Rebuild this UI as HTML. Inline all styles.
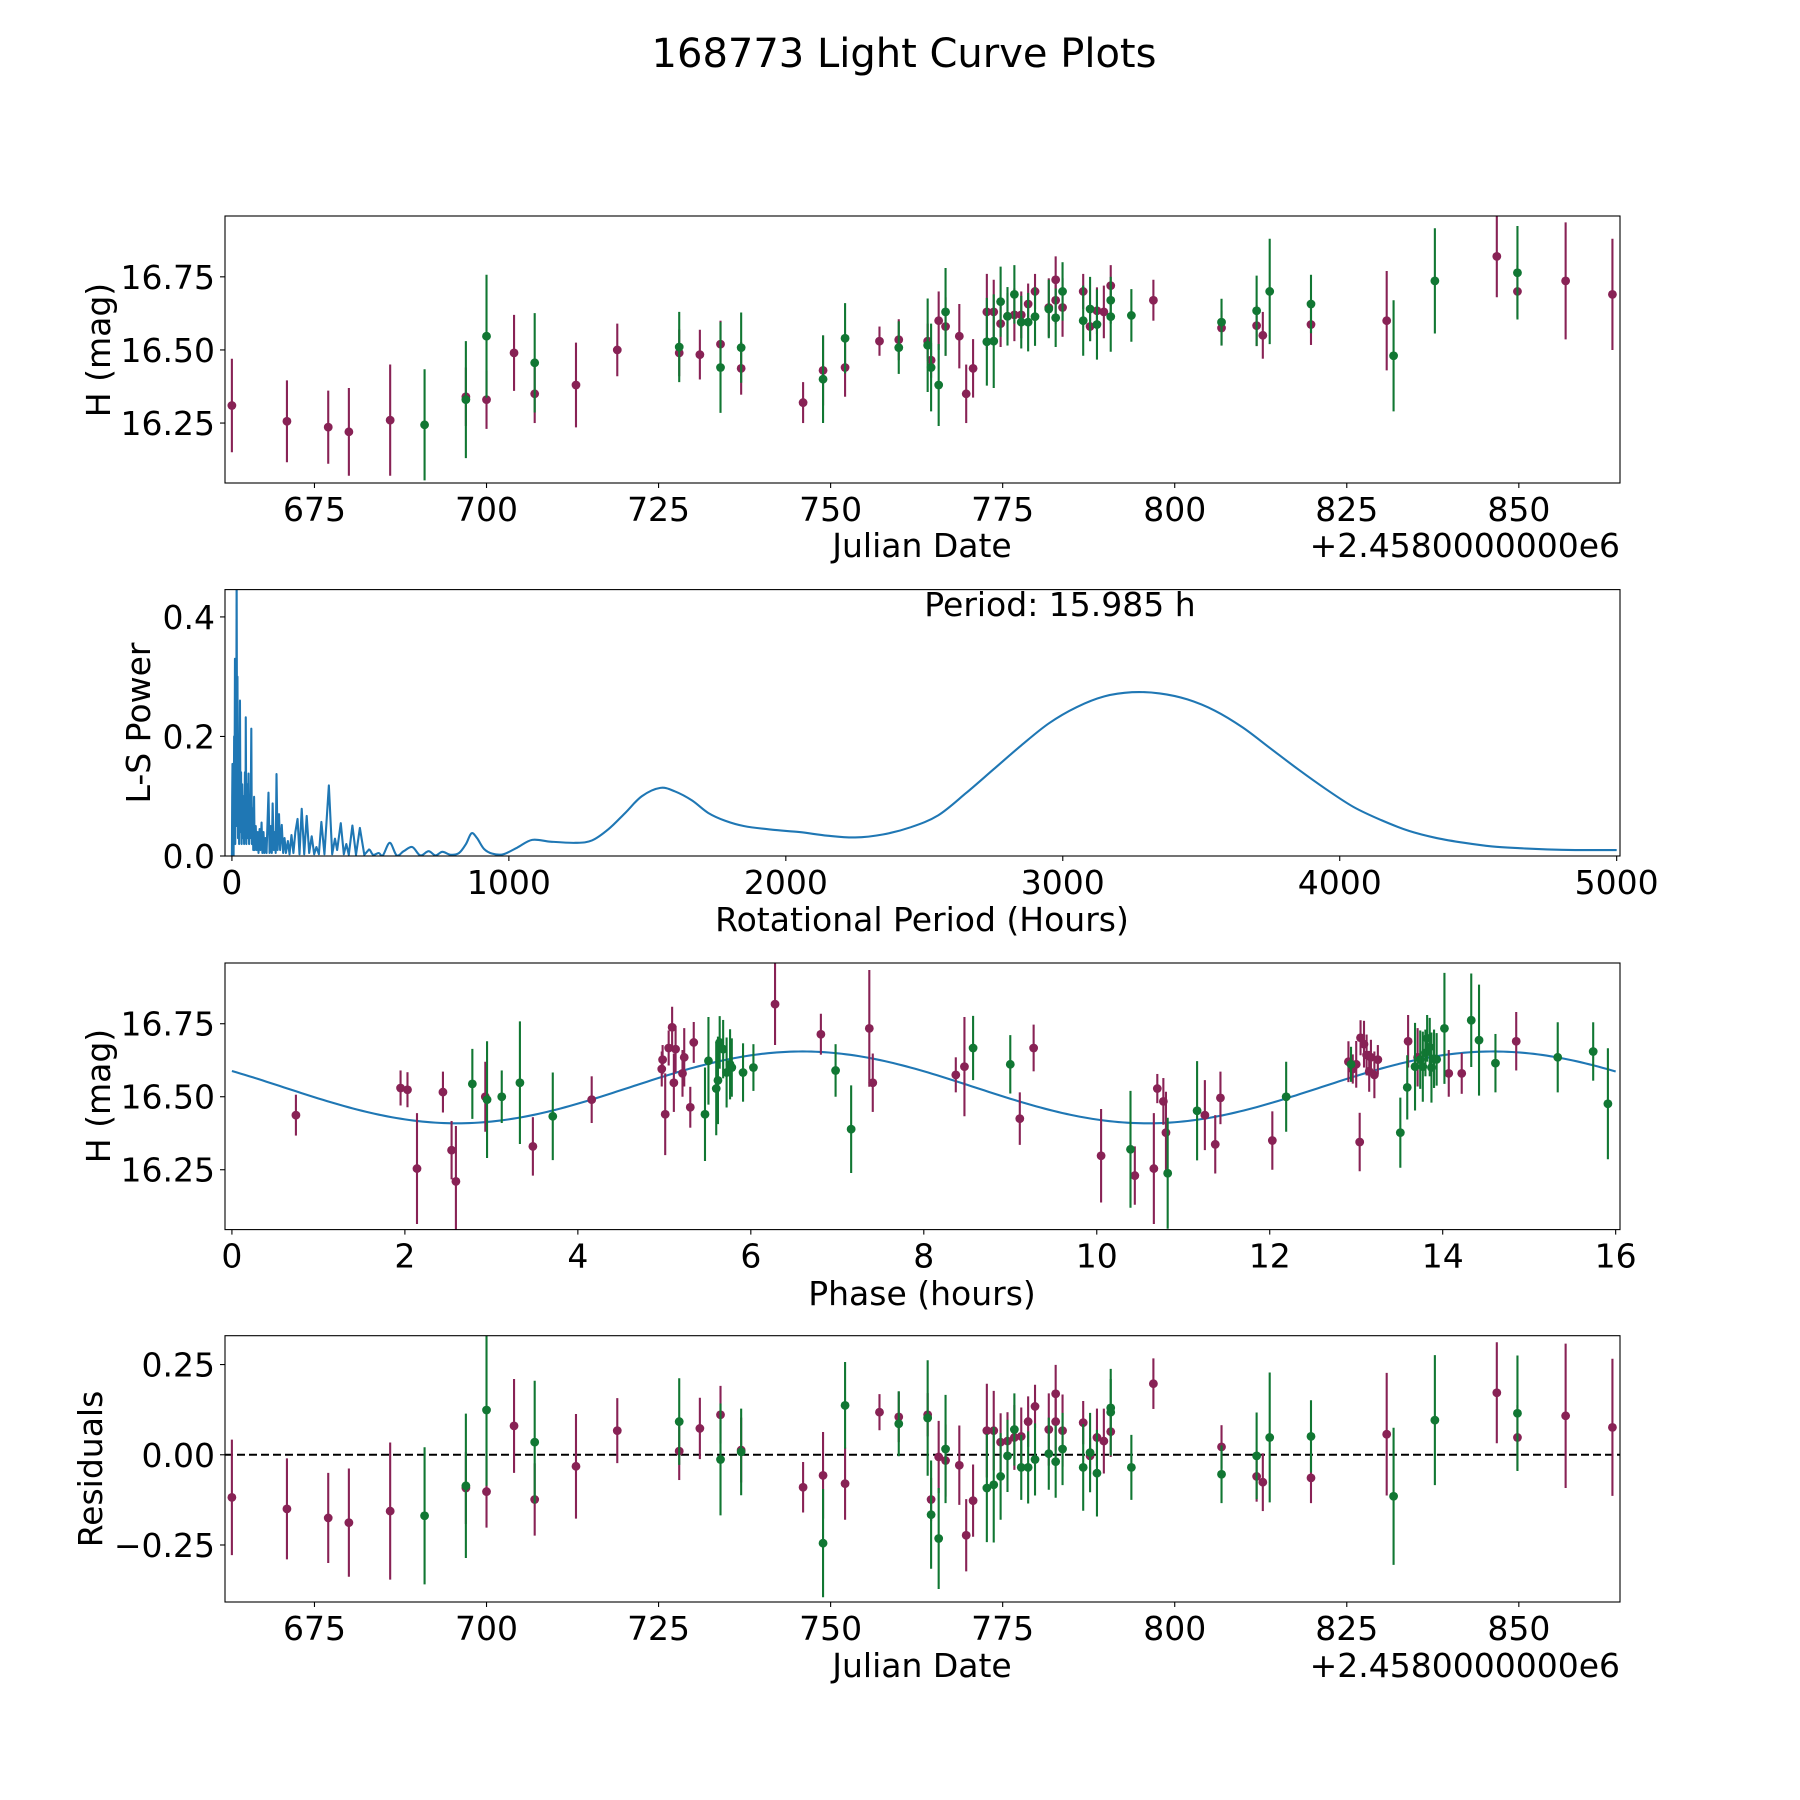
<!DOCTYPE html>
<html><head><meta charset="utf-8"><title>168773 Light Curve Plots</title>
<style>
html,body{margin:0;padding:0;background:#fff;}
svg{display:block;font-family:"DejaVu Sans","Liberation Sans",sans-serif;}
</style></head>
<body>
<svg id="fig" width="1800" height="1800" viewBox="0 0 1800 1800" xmlns="http://www.w3.org/2000/svg">
<rect x="0" y="0" width="1800" height="1800" fill="#fff"/>
<text x="904" y="67" font-size="40" text-anchor="middle">168773 Light Curve Plots</text>
</svg>
<script>
// ---- Light curve / residual data ----
const dates = [663.0,671.0,677.0,680.0,686.0,691.0,697.0,697.0,700.0,700.0,704.0,707.0,707.0,713.0,719.0,728.0,728.0,731.0,734.0,734.0,737.0,737.0,746.0,748.9,748.9,752.1,752.1,757.1,759.9,759.9,764.1,764.1,764.6,764.6,765.7,765.7,766.7,766.7,768.7,769.7,770.7,772.7,772.7,773.7,773.7,774.7,774.7,775.7,775.7,776.7,776.7,777.7,777.7,778.7,778.7,779.7,779.7,781.7,781.7,782.7,782.7,782.7,783.7,783.7,786.7,786.7,787.7,787.7,788.7,788.7,789.7,790.7,790.7,790.7,793.7,796.9,806.8,806.8,811.9,811.9,812.8,813.8,819.8,819.8,830.8,831.8,837.8,846.8,849.8,849.8,856.8,863.6];
const mags = [16.31,16.256,16.236,16.22,16.26,16.244,16.34,16.33,16.33,16.547,16.49,16.35,16.456,16.38,16.50,16.51,16.49,16.484,16.52,16.44,16.508,16.437,16.32,16.43,16.40,16.54,16.44,16.53,16.535,16.508,16.53,16.516,16.465,16.44,16.6,16.38,16.58,16.63,16.547,16.35,16.437,16.63,16.528,16.63,16.53,16.59,16.665,16.615,16.615,16.62,16.69,16.62,16.595,16.657,16.595,16.7,16.614,16.645,16.64,16.74,16.67,16.61,16.645,16.70,16.7,16.6,16.58,16.64,16.634,16.587,16.63,16.72,16.67,16.614,16.618,16.67,16.595,16.575,16.634,16.583,16.55,16.7,16.657,16.587,16.6,16.48,16.736,16.82,16.764,16.7,16.736,16.69];
const errs = [0.16,0.14,0.125,0.15,0.19,0.19,0.10,0.2,0.1,0.21,0.13,0.1,0.17,0.145,0.09,0.12,0.08,0.085,0.08,0.155,0.12,0.09,0.07,0.12,0.15,0.12,0.1,0.05,0.07,0.09,0.06,0.16,0.06,0.15,0.1,0.14,0.1,0.15,0.11,0.1,0.1,0.13,0.15,0.11,0.16,0.08,0.12,0.08,0.1,0.09,0.1,0.08,0.09,0.07,0.1,0.06,0.1,0.1,0.1,0.08,0.08,0.1,0.1,0.1,0.06,0.12,0.05,0.11,0.08,0.12,0.09,0.07,0.08,0.12,0.09,0.07,0.08,0.06,0.12,0.07,0.08,0.18,0.1,0.07,0.17,0.19,0.18,0.14,0.16,0.09,0.2,0.19];
const bands = "MMMMMGMGMGMMGMMGMMMGGMMMGGMMMGMGMGMGMGMMMMGMGMGMGMGMGMGMGMGMMGMGMGMGMGMMGGGMGMGMMGGMMGGMGMMM".split("");
const resids = [-0.118,-0.15,-0.175,-0.188,-0.156,-0.169,-0.092,-0.086,-0.102,0.124,0.08,-0.124,0.035,-0.032,0.067,0.092,0.01,0.073,0.111,-0.013,0.008,0.013,-0.09,-0.057,-0.245,0.137,-0.08,0.118,0.105,0.086,0.111,0.102,-0.124,-0.166,-0.006,-0.232,-0.016,0.016,-0.029,-0.223,-0.127,0.067,-0.092,0.067,-0.083,0.035,-0.06,0.038,-0.003,0.048,0.07,0.051,-0.035,0.092,-0.035,0.134,-0.013,0.07,0.003,0.169,0.092,-0.019,0.067,0.016,0.089,-0.035,-0.003,0.006,0.048,-0.051,0.038,0.064,0.13,0.118,-0.035,0.197,-0.054,0.022,-0.003,-0.06,-0.076,0.048,0.051,-0.064,0.057,-0.115,0.096,0.172,0.115,0.048,0.108,0.076];

// ---- Periodogram data ----
const periodHours = [0,1,2,3,5,6,8,9,11,12,14,15,17,19,20,22,24,26,29,31,33,35,37,39,42,44,47,49,50,52,55,57,60,62,65,67,70,72,75,77,80,82,86,89,93,96,100,103,107,110,114,117,121,125,132,136,140,144,147,151,155,158,161,165,170,174,180,185,190,195,202,208,215,222,229,237,244,252,261,270,279,288,297,305,314,323,334,350,362,372,380,393,404,413,422,435,448,462,478,495,510,530,545,570,595,620,651,680,710,735,760,790,820,845,865,885,910,940,980,1030,1084,1150,1240,1300,1360,1420,1480,1547,1600,1661,1720,1781,1850,1950,2050,2150,2250,2350,2450,2550,2650,2750,2850,2950,3050,3150,3250,3350,3450,3550,3650,3750,3850,3950,4050,4150,4250,4350,4450,4550,4650,4750,4850,4950,5000];
const lsPower = [0,0.10,0.154,0.02,0.12,0.0,0.2,0.05,0.33,0.02,0.25,0.05,0.47,0.05,0.3,0.03,0.15,0.02,0.26,0.04,0.14,0.02,0.12,0.03,0.10,0.02,0.14,0.03,0.232,0.02,0.12,0.03,0.138,0.02,0.09,0.03,0.213,0.02,0.08,0.01,0.099,0.01,0.05,0.01,0.04,0.005,0.045,0.01,0.056,0.005,0.04,0.005,0.03,0.005,0.106,0.005,0.05,0.005,0.088,0.01,0.04,0.005,0.137,0.01,0.07,0.01,0.052,0.005,0.03,0.005,0.025,0.003,0.035,0.005,0.04,0.062,0.003,0.079,0.003,0.067,0.005,0.033,0.003,0.015,0.003,0.057,0.003,0.118,0.003,0.029,0.01,0.055,0.003,0.02,0.002,0.051,0.002,0.047,0.002,0.011,0.002,0.005,0.001,0.022,0.001,0.008,0.015,0.001,0.008,0.001,0.007,0.002,0.005,0.02,0.038,0.03,0.012,0.004,0.003,0.014,0.027,0.024,0.022,0.026,0.045,0.072,0.1,0.114,0.108,0.093,0.072,0.059,0.05,0.044,0.04,0.034,0.031,0.036,0.048,0.068,0.105,0.145,0.185,0.222,0.249,0.267,0.274,0.272,0.262,0.243,0.215,0.18,0.145,0.112,0.082,0.06,0.042,0.03,0.022,0.016,0.013,0.011,0.01,0.01,0.01];

// ---- Phased data ----
const phases = [0.74,1.95,2.03,2.14,2.44,2.54,2.59,2.78,2.93,2.95,3.12,3.33,3.48,3.71,4.16,4.97,4.98,5.01,5.05,5.09,5.11,5.13,5.21,5.23,5.3,5.34,5.47,5.51,5.6,5.62,5.64,5.68,5.72,5.76,5.78,5.91,6.03,6.28,6.81,6.98,7.16,7.37,7.41,8.37,8.47,8.57,9.0,9.11,9.27,10.05,10.39,10.44,10.66,10.7,10.77,10.8,10.82,11.16,11.25,11.37,11.43,12.03,12.19,12.91,12.94,12.96,13.0,13.04,13.05,13.09,13.12,13.15,13.17,13.21,13.25,13.51,13.59,13.6,13.68,13.71,13.74,13.77,13.8,13.82,13.85,13.87,13.9,13.93,14.02,14.07,14.22,14.33,14.42,14.61,14.85,15.33,15.74,15.91];
const phaseMags = [16.437,16.53,16.524,16.254,16.516,16.317,16.21,16.544,16.5,16.49,16.5,16.548,16.33,16.433,16.49,16.595,16.627,16.44,16.667,16.738,16.548,16.663,16.58,16.635,16.464,16.686,16.44,16.623,16.528,16.556,16.686,16.663,16.583,16.611,16.6,16.583,16.6,16.817,16.714,16.59,16.389,16.734,16.548,16.575,16.603,16.667,16.611,16.425,16.667,16.298,16.32,16.23,16.254,16.528,16.484,16.377,16.238,16.452,16.437,16.337,16.496,16.35,16.5,16.62,16.611,16.595,16.611,16.345,16.702,16.68,16.643,16.587,16.635,16.575,16.627,16.377,16.532,16.69,16.603,16.635,16.627,16.603,16.65,16.7,16.67,16.6,16.63,16.628,16.734,16.58,16.58,16.762,16.694,16.615,16.69,16.635,16.655,16.476];
const phaseErrs = [0.07,0.06,0.06,0.19,0.07,0.1,0.19,0.12,0.12,0.2,0.09,0.21,0.1,0.15,0.08,0.06,0.05,0.14,0.06,0.07,0.1,0.08,0.08,0.1,0.07,0.07,0.16,0.15,0.16,0.15,0.09,0.1,0.12,0.12,0.1,0.1,0.08,0.14,0.07,0.09,0.15,0.2,0.1,0.06,0.17,0.11,0.1,0.09,0.08,0.16,0.2,0.1,0.19,0.05,0.08,0.14,0.19,0.17,0.12,0.1,0.09,0.1,0.12,0.07,0.06,0.05,0.08,0.1,0.06,0.08,0.07,0.07,0.06,0.08,0.05,0.12,0.11,0.09,0.15,0.1,0.1,0.12,0.08,0.08,0.1,0.12,0.1,0.09,0.19,0.08,0.07,0.16,0.19,0.1,0.1,0.12,0.1,0.19];
const phaseBands = "MMMMMMMGMGGGMGMMMMMMMMMMMMGGGGGGGGGGGMMGGMMMMGGMMMGMMMMMGGMMMMGMGMMMMMMMMMMGGMGMGGGGGGGGGMMGGGMGGG".split("");

// ---- Fit model (phase plot) ----
const modelMean = [16.532];
const modelAmp = [0.123];
const modelMinPhase = [2.6];
const modelHalfPeriod = [7.99];

// ---- Tick labels ----
const jdTicks = [675,700,725,750,775,800,825,850];
const magTicks = [16.25,16.50,16.75];
const magTickLabels = ["16.25","16.50","16.75"];
const periodTicks = [0,1000,2000,3000,4000,5000];
const powerTicks = [0.0,0.2,0.4];
const powerTickLabels = ["0.0","0.2","0.4"];
const phaseTicks = [0,2,4,6,8,10,12,14,16];
const residTicks = [0.25,0,-0.25];
const residTickLabels = ["0.25","0.00","\u22120.25"];

const NS = "http://www.w3.org/2000/svg";
const svg = document.getElementById("fig");
const COL = {M:"#882255", G:"#117733"};
const FS = 33;

function mk(tag, attrs, parent){
  const e = document.createElementNS(NS, tag);
  for (const k in attrs) e.setAttribute(k, attrs[k]);
  (parent||svg).appendChild(e);
  return e;
}
function scale(d0,d1,p0,p1){ return v => p0 + (v-d0)/(d1-d0)*(p1-p0); }

const L = 225, R = 1620;
function makeAxes(name, top, bottom, xlim, ylim){
  const g = mk("g", {});
  
  
  const clipId = name + "-clip";
  const cp = mk("clipPath", {id: clipId}, g);
  mk("rect", {x:L, y:top, width:R-L, height:bottom-top}, cp);
  const plot = mk("g", {"clip-path":"url(#"+clipId+")"}, g);
  return {g, plot, top, bottom, x: scale(xlim[0],xlim[1],L,R), y: scale(ylim[0],ylim[1],bottom,top)};
}
function frame(ax){
  const r = mk("rect", {x:L, y:ax.top, width:R-L, height:ax.bottom-ax.top, fill:"none", stroke:"#000", "stroke-width":1.1}, ax.g);
  
  
}
function xTicks(ax, vals, labels, axisName){
  vals.forEach((v,i)=>{
    const px = ax.x(v);
    mk("line", {x1:px, x2:px, y1:ax.bottom, y2:ax.bottom+5, stroke:"#000", "stroke-width":1.1}, ax.g);
    const t = mk("text", {x:px, y:ax.bottom+38, "font-size":FS, "text-anchor":"middle"}, ax.g);
    
    
    t.textContent = labels ? labels[i] : String(v);
  });
}
function yTicks(ax, vals, labels, axisName){
  vals.forEach((v,i)=>{
    const py = ax.y(v);
    mk("line", {x1:L-5, x2:L, y1:py, y2:py, stroke:"#000", "stroke-width":1.1}, ax.g);
    const t = mk("text", {x:L-10, y:py+12, "font-size":FS, "text-anchor":"end"}, ax.g);
    
    
    t.textContent = labels ? labels[i] : String(v);
  });
}
function label(ax, txt, x, y, rot, name, anchor){
  const t = mk("text", {x:x, y:y, "font-size":FS, "text-anchor":anchor||"middle"}, ax.g);
  if (rot) t.setAttribute("transform", "rotate(-90 "+x+" "+y+")");
  
  
  t.textContent = txt;
}
function errPoints(ax, xs, ys, es, bs, prefix){
  ["M","G"].forEach(b=>{
    xs.forEach((xv,i)=>{
      if (bs[i]!==b) return;
      const px = ax.x(xv), py = ax.y(ys[i]);
      const ln = mk("line", {x1:px, x2:px, y1:ax.y(ys[i]-es[i]), y2:ax.y(ys[i]+es[i]), stroke:COL[b], "stroke-width":2.1}, ax.plot);
      
      
      const c = mk("circle", {cx:px, cy:py, r:4.4, fill:COL[b]}, ax.plot);
      
      
    });
  });
}

// Panel 1: light curve
const ax1 = makeAxes("light-curve-panel", 216, 483, [662.0,864.7], [16.045,16.958]);
errPoints(ax1, dates, mags, errs, bands, "magnitude");
frame(ax1);
xTicks(ax1, jdTicks, null, "julian-date");
yTicks(ax1, magTicks, magTickLabels, "magnitude");
label(ax1, "Julian Date", 922, 557, false, "x-axis-title");
label(ax1, "+2.4580000000e6", R, 557, false, "x-offset-text", "end");
label(ax1, "H (mag)", 110, 350, true, "y-axis-title");

// Panel 2: periodogram
const ax2 = makeAxes("periodogram-panel", 589.6, 856, [-25,5012], [0,0.4457]);
{
  const P = periodHours.map((h,i)=>[ax2.x(h), ax2.y(lsPower[i])]);
  let d = "M" + P[0][0].toFixed(2) + " " + P[0][1].toFixed(2) + " ";
  for (let i=1;i<P.length;i++){
    if (periodHours[i] <= 500){
      d += "L" + P[i][0].toFixed(2) + " " + P[i][1].toFixed(2) + " ";
    } else {
      const p0 = P[i-2] || P[i-1], p1 = P[i-1], p2 = P[i], p3 = P[i+1] || P[i];
      const c1x = p1[0] + (p2[0]-p0[0])/6, c1y = p1[1] + (p2[1]-p0[1])/6;
      const c2x = p2[0] - (p3[0]-p1[0])/6, c2y = p2[1] - (p3[1]-p1[1])/6;
      d += "C" + c1x.toFixed(2) + " " + c1y.toFixed(2) + " " + c2x.toFixed(2) + " " + c2y.toFixed(2) + " " + p2[0].toFixed(2) + " " + p2[1].toFixed(2) + " ";
    }
  }
  const p = mk("path", {d:d, fill:"none", stroke:"#1f77b4", "stroke-width":2.1, "stroke-linejoin":"round"}, ax2.plot);
  
  
}
frame(ax2);
xTicks(ax2, periodTicks, null, "period");
yTicks(ax2, powerTicks, powerTickLabels, "power");
label(ax2, "Rotational Period (Hours)", 922, 931, false, "x-axis-title");
label(ax2, "L-S Power", 150, 723, true, "y-axis-title");
label(ax2, "Period: 15.985 h", 1060, 616, false, "period-annotation");

// Panel 3: phased
const ax3 = makeAxes("phase-panel", 963, 1229.6, [-0.08,16.05], [16.045,16.958]);
{
  let d = "";
  for (let k=0;k<=320;k++){
    const p = k*16/320;
    const m = modelMean[0] - modelAmp[0]*Math.cos(2*Math.PI*(p-modelMinPhase[0])/modelHalfPeriod[0]);
    d += (k?"L":"M") + ax3.x(p).toFixed(2) + " " + ax3.y(m).toFixed(2) + " ";
  }
  const ml = mk("path", {d:d, fill:"none", stroke:"#1f77b4", "stroke-width":2.1}, ax3.plot);
  
  
}
errPoints(ax3, phases, phaseMags, phaseErrs, phaseBands, "phased");
frame(ax3);
xTicks(ax3, phaseTicks, null, "phase");
yTicks(ax3, magTicks, magTickLabels, "magnitude");
label(ax3, "Phase (hours)", 922, 1305, false, "x-axis-title");
label(ax3, "H (mag)", 110, 1096, true, "y-axis-title");

// Panel 4: residuals
const ax4 = makeAxes("residuals-panel", 1335.7, 1602, [662.0,864.7], [-0.408,0.33]);
{
  const z = mk("line", {x1:L, x2:R, y1:ax4.y(0), y2:ax4.y(0), stroke:"#000", "stroke-width":2, "stroke-dasharray":"8 4"}, ax4.plot);
  
  
}
errPoints(ax4, dates, resids, errs, bands, "residual");
frame(ax4);
xTicks(ax4, jdTicks, null, "julian-date");
yTicks(ax4, residTicks, residTickLabels, "residual");
label(ax4, "Julian Date", 922, 1677, false, "x-axis-title");
label(ax4, "+2.4580000000e6", R, 1677, false, "x-offset-text", "end");
label(ax4, "Residuals", 102, 1469, true, "y-axis-title");
</script>
</body></html>
